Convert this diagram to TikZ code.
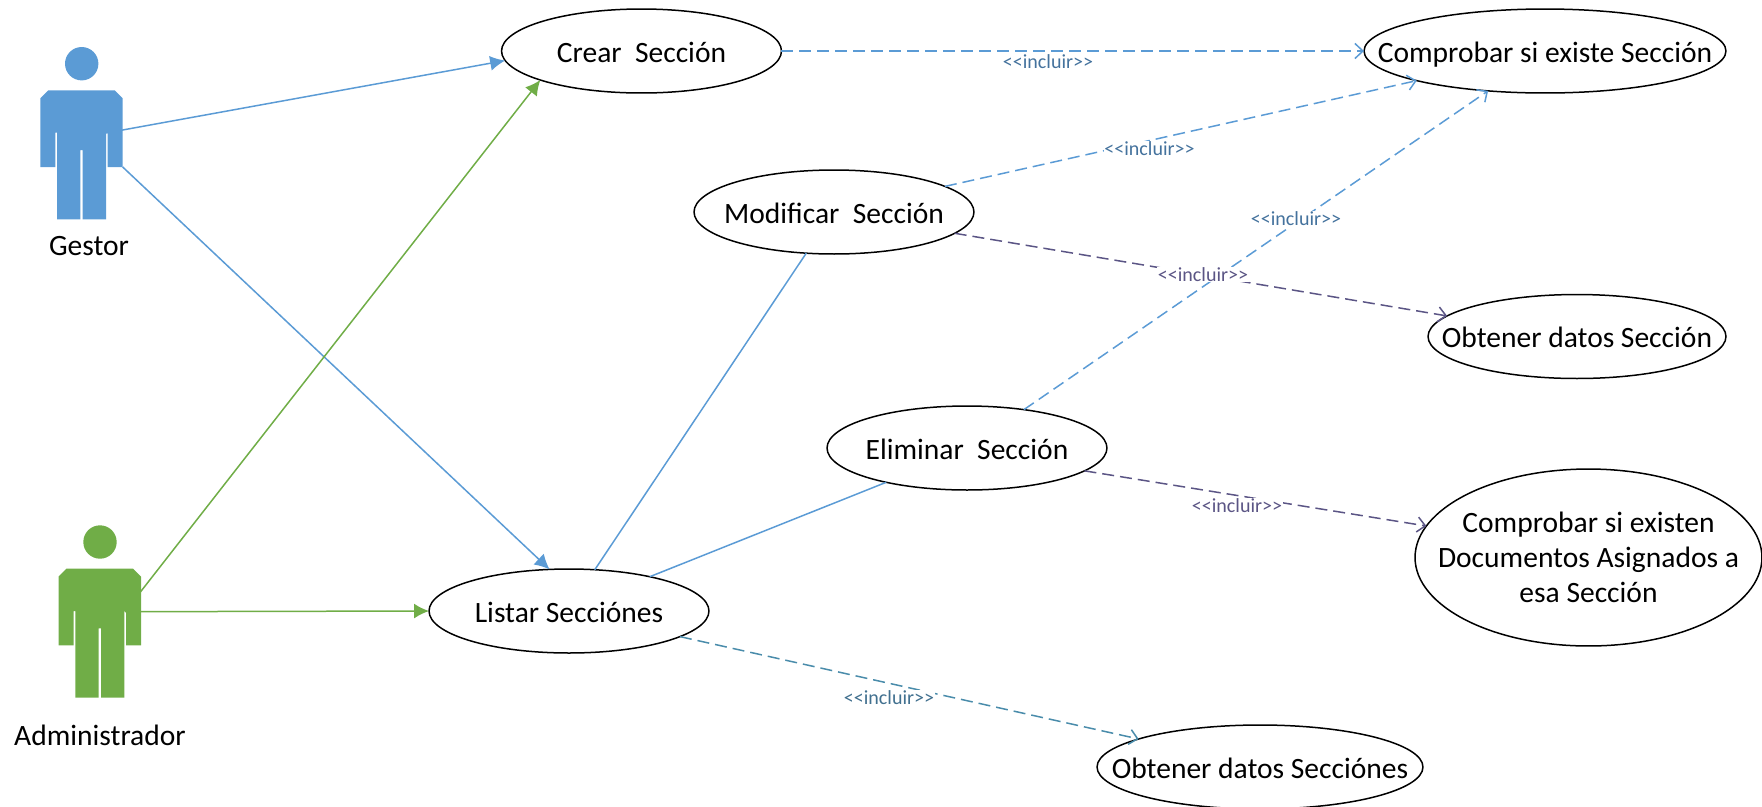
\documentclass[tikz,border=0pt]{standalone}
\usepackage{fontspec}
\setmainfont{Carlito}
\usetikzlibrary{arrows.meta,shapes.geometric}
\definecolor{gestorblue}{HTML}{5B9BD5}
\definecolor{admingreen}{HTML}{70AD47}
\definecolor{inclublue}{HTML}{44729D}
\definecolor{inclupurple}{HTML}{5B5585}
\definecolor{incluteal}{HTML}{4A8CAB}
\definecolor{etiqteal}{HTML}{41708F}
\newcommand{\inclu}{<\kern0pt<incluir>\kern0pt>}
\newcommand{\caso}[2][-6.5pt]{\makebox[0pt]{\raisebox{#1}[0pt][0pt]{#2}}}
\tikzset{
  casouso/.style={draw, line width=0.03cm, ellipse, inner sep=0pt, outer sep=0pt, font=\fontsize{16.8}{20}\selectfont, minimum width=5.6cm, minimum height=1.68cm},
  asoc/.style={line width=0.03cm, -{Latex[length=0.3cm,width=0.3cm]}},
  incl/.style={line width=0.03cm, dash pattern=on 0.24cm off 0.12cm, -{Straight Barb[length=0.16cm,width=0.3cm]}},
  etiq/.style={fill=white, inner sep=0.5pt, font=\fontsize{11.4}{12}\selectfont},
  actor/.pic={
    \fill (0,-18.3) circle [radius=16.7];
    \fill (-33.4,8.3) -- (-41.4,16.3) -- (-41.4,85) -- (-26.4,85) -- (-26.4,50.7) -- (-24.7,50.7) -- (-24.7,137.3) -- (-1.4,137.3) -- (-1.4,68) -- (1,68) -- (1,137.3) -- (24.3,137.3) -- (24.3,50.7) -- (26,50.7) -- (26,85) -- (41,85) -- (41,16.3) -- (33,8.3) -- cycle;
  }
}
\begin{document}
\begin{tikzpicture}[x=0.02cm, y=-0.02cm]
  \useasboundingbox (0,0) rectangle (1762,806);
  \pic[gestorblue] at (81.7,82) {actor};
  \pic[admingreen] at (100,560.3) {actor};
  \node (gestor) at (89,246.5) {\fontsize{16.8}{20}\selectfont Gestor};
  \node (admin) at (100,735) {\fontsize{16.8}{20}\selectfont Administrador};
  \coordinate (gestorA) at (106,133);
  \coordinate (gestorB) at (122.7,167);
  \coordinate (adminA) at (125,611.7);

  \node[casouso] (crear) at (641.5,51) {\caso{Crear\ \ Sección}};
  \node[casouso, minimum width=7.24cm] (comprobar) at (1545,51) {\caso{Comprobar si existe Sección}};
  \node[casouso] (modificar) at (834,212) {\caso{Modificar\ \ Sección}};
  \node[casouso, minimum width=5.96cm] (datos) at (1577,336.5) {\caso{Obtener datos Sección}};
  \node[casouso] (eliminar) at (967,448) {\caso{Eliminar\ \ Sección}};
  \node[casouso, minimum width=6.94cm, minimum height=3.54cm] (docs) at (1588.5,557.5) {\caso[-6.1pt]{\begin{tabular}{@{}c@{}}Comprobar si existen\\Documentos Asignados a\\esa Sección\end{tabular}}};
  \node[casouso] (listar) at (569,611) {\caso{Listar Secciónes}};
  \node[casouso, minimum width=6.52cm] (datoslista) at (1260,767) {\caso{Obtener datos Secciónes}};

  \draw[asoc, gestorblue] (gestorA) -- (crear.184);
  \draw[asoc, gestorblue] (gestorB) -- (listar.115.4);
  \draw[asoc, admingreen] (adminA) -- (crear.196.5);
  \draw[asoc, admingreen] (adminA) -- (listar.west);
  \draw[gestorblue, line width=0.03cm] (listar.58) -- (modificar.236);
  \draw[gestorblue, line width=0.03cm] (listar.23) -- (eliminar.203);

  \draw[incl, gestorblue] (crear.east) -- (comprobar.west);
  \draw[incl, gestorblue] (modificar.13.6) -- (comprobar.193.5);
  \draw[incl, gestorblue] (eliminar.34.5) -- (comprobar.215);
  \draw[incl, inclupurple] (modificar.-10.5) -- (datos.171.1);
  \draw[incl, inclupurple] (eliminar.-11) -- (docs.169.4);
  \draw[incl, incluteal] (listar.-13.5) -- (datoslista.167.6);

  \node[etiq, text=inclublue] (etiqA) at (1048,62) {\inclu};
  \node[etiq, text=inclublue] (etiqB) at (1149.5,149) {\inclu};
  \node[etiq, text=inclublue] (etiqC) at (1296,219) {\inclu};
  \node[etiq, text=inclupurple] (etiqD) at (1203,274.5) {\inclu};
  \node[etiq, text=inclupurple] (etiqE) at (1237,506) {\inclu};
  \node[etiq, text=etiqteal] (etiqF) at (889,698) {\inclu};
\end{tikzpicture}
\end{document}
